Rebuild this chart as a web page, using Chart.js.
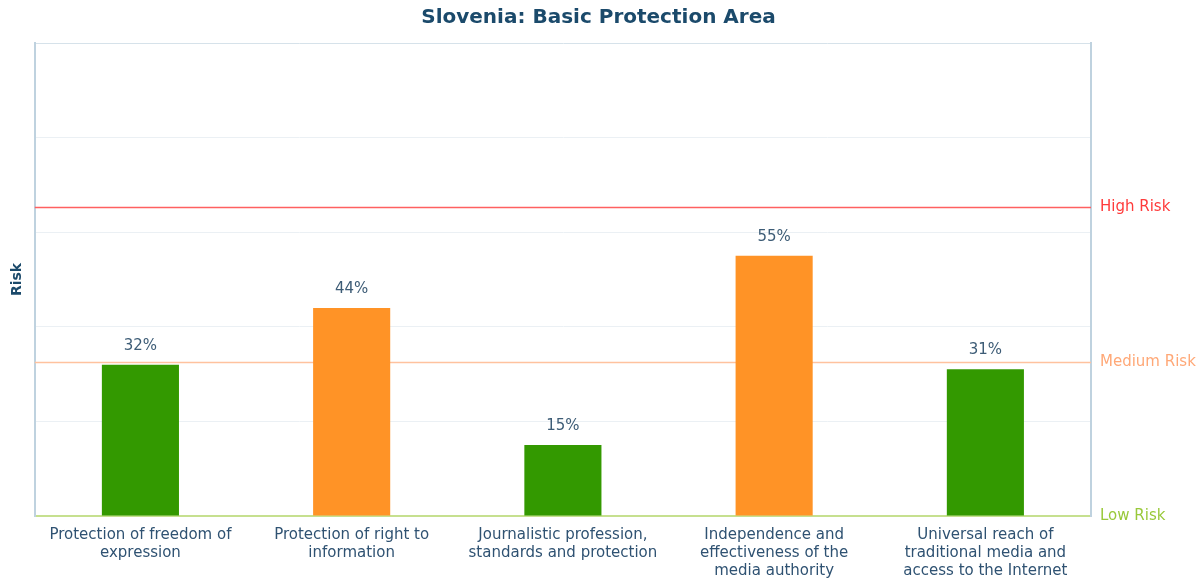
<!DOCTYPE html>
<html>
<head>
<meta charset="utf-8">
<script src="https://cdn.jsdelivr.net/npm/chart.js@4.4.0/dist/chart.umd.min.js"></script>
<style>
html,body{margin:0;padding:0;background:#fff;}
#wrap{width:1204px;height:583px;position:relative;}
</style>
</head>
<body>
<div id="wrap"><canvas id="c"></canvas></div>
<script>
const titleText = "Slovenia: Basic Protection Area";
const categories = [
  ["Protection of freedom of", "expression"],
  ["Protection of right to", "information"],
  ["Journalistic profession,", "standards and protection"],
  ["Independence and", "effectiveness of the", "media authority"],
  ["Universal reach of", "traditional media and", "access to the Internet"]
];
const riskValues = [32, 44, 15, 55, 31];
const riskLevelValues = [0, 32.5, 65.3];
const riskLevelLabels = ["Low Risk", "Medium Risk", "High Risk"];
const riskLevelColors = ["#99c93a", "#ffa877", "#ff3b3b"];
const riskLineColors = ["#c6e08f", "#ffc29e", "#ff6060"];
const gridTicks = [0, 20, 40, 60, 80, 100];

const barColor = v => v >= riskLevelValues[2] ? "#e83030" : (v >= riskLevelValues[1] ? "#ff9326" : "#339900");
const FONT = "'DejaVu Sans', Verdana, sans-serif";

const thresholdPlugin = {
  id: "thresholds",
  beforeDatasetsDraw(chart) {
    const {ctx, chartArea} = chart;
    const s = chart.scales.y2;
    ctx.save();
    for (let i = 1; i < riskLevelValues.length; i++) {
      const y = Math.round(s.getPixelForValue(riskLevelValues[i])) + 0.5;
      ctx.strokeStyle = riskLineColors[i];
      ctx.lineWidth = 1.5;
      ctx.beginPath();
      ctx.moveTo(chartArea.left, y);
      ctx.lineTo(chartArea.right, y);
      ctx.stroke();
    }
    ctx.restore();
  },
  afterDatasetsDraw(chart) {
    const {ctx} = chart;
    const meta = chart.getDatasetMeta(0);
    ctx.save();
    ctx.font = "15px " + FONT;
    ctx.fillStyle = "#3d5c76";
    ctx.textAlign = "center";
    ctx.textBaseline = "middle";
    meta.data.forEach((bar, i) => {
      ctx.fillText(riskValues[i] + "%", bar.x, bar.y - 19);
    });
    ctx.restore();
  }
};

new Chart(document.getElementById("c"), {
  type: "bar",
  data: {
    labels: categories,
    datasets: [{
      data: riskValues,
      backgroundColor: riskValues.map(barColor),
      borderWidth: 0,
      barPercentage: 0.365,
      categoryPercentage: 1.0
    }]
  },
  options: {
    responsive: true,
    maintainAspectRatio: false,
    animation: false,
    devicePixelRatio: 1,
    layout: {padding: {left: 0, right: 7, top: 0, bottom: 3}},
    plugins: {
      legend: {display: false},
      tooltip: {enabled: false},
      title: {
        display: true,
        text: titleText,
        color: "#1b4a6b",
        font: {family: FONT, size: 20, weight: "bold", lineHeight: 1.2},
        padding: {top: 6, bottom: 13}
      }
    },
    scales: {
      x: {
        afterFit(scale) { scale.height = 64; },
        grid: {display: false, drawTicks: false},
        border: {display: true, color: "#c6e08f", width: 2},
        ticks: {
          color: "#2f5272",
          font: {family: FONT, size: 15, lineHeight: 1.2},
          maxRotation: 0,
          autoSkip: false,
          padding: 10
        }
      },
      y: {
        position: "left",
        min: 0,
        max: 100,
        afterBuildTicks(scale) { scale.ticks = gridTicks.map(v => ({value: v})); },
        grid: {
          drawTicks: false,
          color: ctx => (ctx.tick && ctx.tick.value === 100) ? "#d6e2ea" : "#ebf0f4",
          lineWidth: 1
        },
        border: {display: true, color: "#bfd2df", width: 2},
        ticks: {display: false},
        title: {
          display: true,
          text: "Risk",
          color: "#1b4a6b",
          font: {family: FONT, size: 14, weight: "bold"},
          padding: {top: 9, bottom: 9}
        }
      },
      y2: {
        position: "right",
        min: 0,
        max: 100,
        afterFit(scale) { scale.width = 106; },
        afterBuildTicks(scale) { scale.ticks = riskLevelValues.map(v => ({value: v})); },
        grid: {display: false, drawTicks: false},
        border: {display: true, color: "#bfd2df", width: 2},
        ticks: {
          padding: 9,
          font: {family: FONT, size: 15},
          color: ctx => riskLevelColors[ctx.index],
          callback: (v, i) => riskLevelLabels[i]
        }
      }
    }
  },
  plugins: [thresholdPlugin]
});
</script>
</body>
</html>
